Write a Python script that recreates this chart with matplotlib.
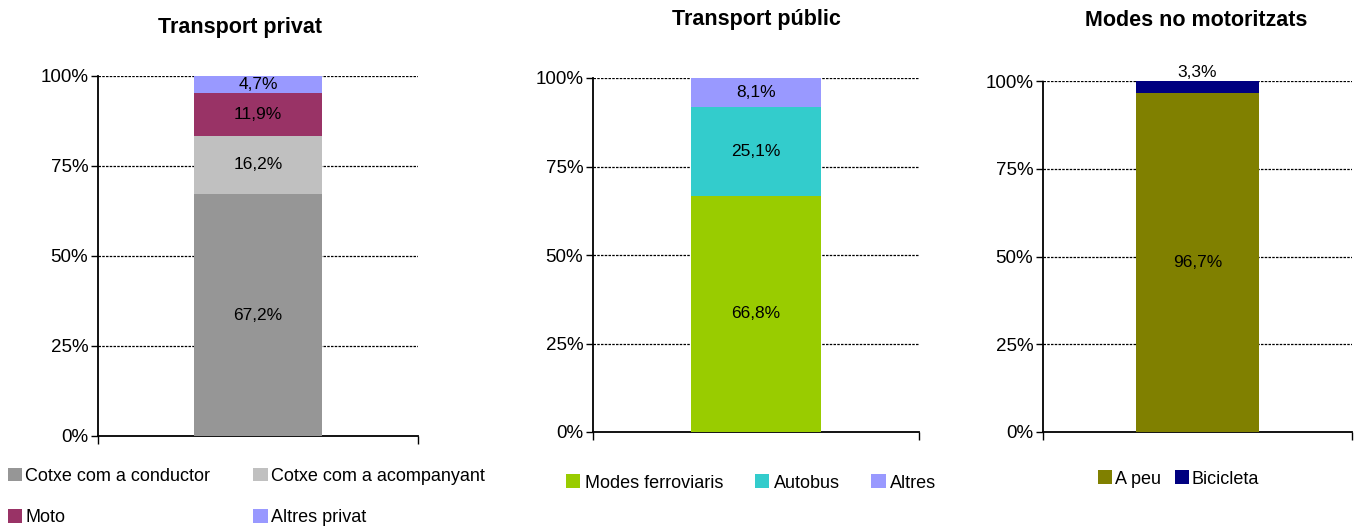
import matplotlib
matplotlib.use("Agg")
import matplotlib.pyplot as plt
import numpy as np

plt.rcParams['font.family'] = ['Liberation Sans', 'DejaVu Sans']

# data (shares in %)
priv_labels = ["Cotxe com a conductor", "Cotxe com a acompanyant", "Moto", "Altres privat"]
priv_values = [67.2, 16.2, 11.9, 4.7]
priv_colors = ["#969696", "#C0C0C0", "#993366", "#9999FF"]

pub_labels = ["Modes ferroviaris", "Autobus", "Altres"]
pub_values = [66.8, 25.1, 8.1]
pub_colors = ["#99CC00", "#33CCCC", "#9999FF"]

nomot_labels = ["A peu", "Bicicleta"]
nomot_values = [96.7, 3.3]
nomot_colors = ["#808000", "#000080"]

titles = ["Transport privat", "Transport públic", "Modes no motoritzats"]
yticks = [0, 25, 50, 75, 100]

fig = plt.figure(figsize=(13.62, 5.27), dpi=100)

# axes placement (figure fractions)
rects = [
    [98 / 1362, 1 - 436 / 527, 320 / 1362, 360 / 527],
    [593 / 1362, 1 - 432 / 527, 326 / 1362, 354 / 527],
    [1043 / 1362, 1 - 432 / 527, 309 / 1362, 351 / 527],
]
title_pos = [(240, 28), (756, 20), (1196, 20)]


def pct(v):
    return f"{v:.1f}%".replace(".", ",")


def draw_panel(ax, labels, values, colors, dotted_spines=False, small_top=False):
    bottom = 0
    handles = []
    for i, (lab, val, col) in enumerate(zip(labels, values, colors)):
        b = ax.bar(0, val, width=0.8, bottom=bottom, color=col, label=lab, zorder=3)
        handles.append(b)
        if small_top and i == len(values) - 1:
            ax.text(0, bottom + val + 0.2, pct(val), ha="center", va="bottom", fontsize=12.5, zorder=4)
        else:
            ax.text(0, bottom + val / 2, pct(val), ha="center", va="center", fontsize=12.5, zorder=4)
        bottom += val

    ax.set_xlim(-1, 1)
    ax.set_ylim(0, 100)
    ax.set_yticks(yticks)
    ax.set_yticklabels([f"{t}%" for t in yticks], fontsize=13.5)
    ax.set_xticks([-1, 1])
    ax.set_xticklabels([])
    ax.tick_params(axis="y", length=5, width=1, direction="out", pad=2)
    ax.tick_params(axis="x", length=6, width=1, direction="out")

    for y in yticks[1:]:
        ax.axhline(y, color="black", lw=0.9, linestyle=(0, (2, 1)), zorder=1)

    for s in ["top", "right"]:
        ax.spines[s].set_visible(False)
    for s in ["left", "bottom"]:
        ax.spines[s].set_linewidth(1.3)
        if dotted_spines:
            ax.spines[s].set_linestyle((0, (2, 1)))
    return handles


axes = [fig.add_axes(r) for r in rects]
h1 = draw_panel(axes[0], priv_labels, priv_values, priv_colors)
h2 = draw_panel(axes[1], pub_labels, pub_values, pub_colors)
h3 = draw_panel(axes[2], nomot_labels, nomot_values, nomot_colors, dotted_spines=True, small_top=True)

for t, (x, y) in zip(titles, title_pos):
    fig.text(x / 1362, 1 - y / 527, t, ha="center", va="center", fontsize=15.5, fontweight="bold")

leg_kw = dict(frameon=False, fontsize=13, handlelength=0.8, handleheight=0.8,
              borderpad=0, borderaxespad=0)

# left legend: two rows, two columns
order = [0, 2, 1, 3]
fig.legend([h1[i] for i in order], [priv_labels[i] for i in order], ncol=2,
           loc="center left", bbox_to_anchor=(8 / 1362, 1 - 497 / 527),
           handletextpad=0.15, columnspacing=2.4, labelspacing=1.35, **leg_kw)

fig.legend(h2, pub_labels, ncol=3, loc="center left",
           bbox_to_anchor=(566 / 1362, 1 - 483 / 527),
           handletextpad=0.25, columnspacing=1.75, **leg_kw)

fig.legend(h3, nomot_labels, ncol=2, loc="center left",
           bbox_to_anchor=(1098 / 1362, 1 - 479 / 527),
           handletextpad=0.15, columnspacing=0.75, **leg_kw)

fig.savefig("out.png", dpi=100)
